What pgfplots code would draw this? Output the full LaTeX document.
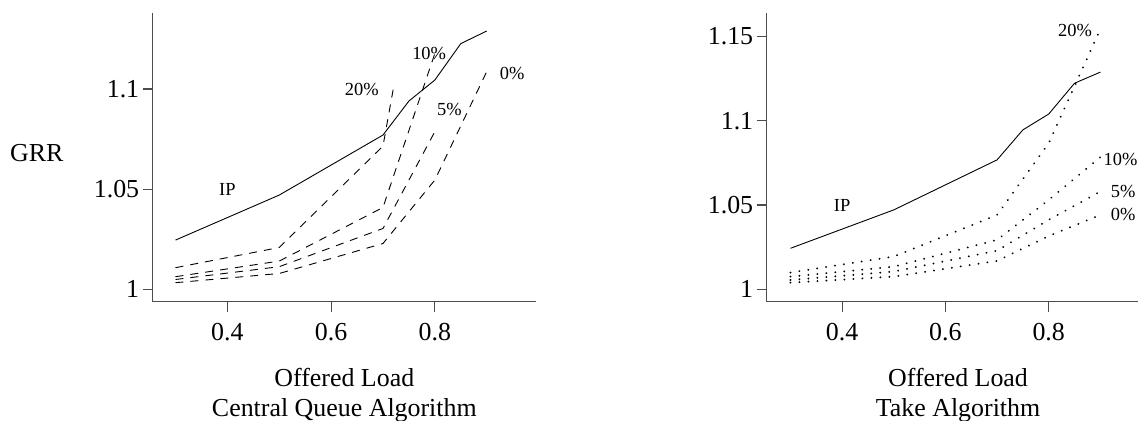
\documentclass[border=0pt]{standalone}
\usepackage{fontspec}
\setmainfont{Liberation Serif}
\usepackage{pgfplots}
\pgfplotsset{compat=1.18}
\tikzset{
  lbl/.style={font=\fontsize{18.5}{20}\selectfont, inner sep=0pt},
  dashd/.style={dash pattern=on 8bp off 7bp},
  dotd/.style={line width=2.1bp, line cap=round, dash pattern=on 0.01bp off 9bp},
}
\pgfplotsset{rstyle/.style={
  scale only axis, height=288.7bp,
  axis x line=bottom, axis y line=left,
  axis line style={-, line width=1.1bp, black!70},
  tick style={line width=1.1bp, black!70},
  major tick length=10bp, tick align=outside,
  xtick={0.4,0.6,0.8},
  /pgf/number format/assume math mode=true,
  ticklabel style={font=\fontsize{26}{30}\selectfont},
  xticklabel style={anchor=base, yshift=-29bp},
  every axis x label/.style={at={(rel axis cs:0.5,0)}, anchor=base, yshift=-84.3bp, font=\fontsize{26}{31}\selectfont},
  title style={font=\fontsize{26}{31}\selectfont, at={(rel axis cs:0.5,0)}, anchor=base, yshift=-121bp},
  xmax=0.995,
  clip=false,
  every axis plot/.append style={line width=0.9bp, black, mark=none},
}}
\begin{document}
\begin{tikzpicture}[x=1bp,y=1bp]
\begin{axis}[rstyle, at={(152.7bp,119.3bp)}, anchor=south west,
  width=383.3bp, xmin=0.256, ymin=0.9937, ymax=1.138,
  ytick={1,1.05,1.1},
  xlabel={Offered Load}, title={Central Queue Algorithm},
  ylabel={GRR},
  every axis y label/.style={at={(rel axis cs:-0.3026,0.485)}, anchor=base, font=\fontsize{26}{30}\selectfont}]
\addplot[solid] coordinates {(0.3,1.0245)(0.5,1.047)(0.7,1.077)(0.75,1.094)(0.8,1.1045)(0.85,1.1227)(0.9,1.129)};
\addplot[dashd] coordinates {(0.3,1.0107)(0.5,1.0208)(0.7,1.0715)(0.72,1.1003)};
\addplot[dashd] coordinates {(0.3,1.0062)(0.5,1.014)(0.7,1.0408)(0.8,1.1178)};
\addplot[dashd] coordinates {(0.3,1.0048)(0.5,1.0112)(0.7,1.0303)(0.8,1.0787)};
\addplot[dashd] coordinates {(0.3,1.0032)(0.5,1.0078)(0.7,1.0228)(0.8,1.0545)(0.9,1.1087)};
\node[lbl] at (axis cs:0.4,1.05) {IP};
\node[lbl] at (axis cs:0.659,1.10) {20\%};
\node[lbl] at (axis cs:0.789,1.118) {10\%};
\node[lbl] at (axis cs:0.828,1.09) {5\%};
\node[lbl] at (axis cs:0.949,1.108) {0\%};
\end{axis}
\begin{axis}[rstyle, at={(766.7bp,119.3bp)}, anchor=south west,
  width=382.7bp, xmin=0.254, ymin=0.9926, ymax=1.164,
  ytick={1,1.05,1.1,1.15},
  xlabel={Offered Load}, title={Take Algorithm}]
\addplot[solid] coordinates {(0.3,1.0243)(0.5,1.0471)(0.7,1.0768)(0.75,1.0946)(0.8,1.104)(0.85,1.1223)(0.9,1.1289)};
\addplot[dotd] coordinates {(0.3,1.0099)(0.5,1.0194)(0.7,1.0441)(0.8,1.0867)(0.9,1.1544)};
\addplot[dotd] coordinates {(0.3,1.0075)(0.5,1.0134)(0.7,1.0293)(0.8,1.053)(0.9,1.0784)};
\addplot[dotd] coordinates {(0.3,1.0055)(0.5,1.0105)(0.7,1.0229)(0.8,1.0412)(0.9,1.058)};
\addplot[dotd] coordinates {(0.3,1.0039)(0.5,1.0075)(0.7,1.0168)(0.8,1.0316)(0.9,1.0441)};
\node[lbl] at (axis cs:0.4,1.0496) {IP};
\node[lbl] at (axis cs:0.851,1.1536) {20\%};
\node[lbl, anchor=west] at (axis cs:0.906,1.0772) {10\%};
\node[lbl, anchor=west] at (axis cs:0.920,1.058) {5\%};
\node[lbl, anchor=west] at (axis cs:0.920,1.0441) {0\%};
\end{axis}
\pgfresetboundingbox
\useasboundingbox (0,0) rectangle (1138bp,421bp);
\end{tikzpicture}
\end{document}
